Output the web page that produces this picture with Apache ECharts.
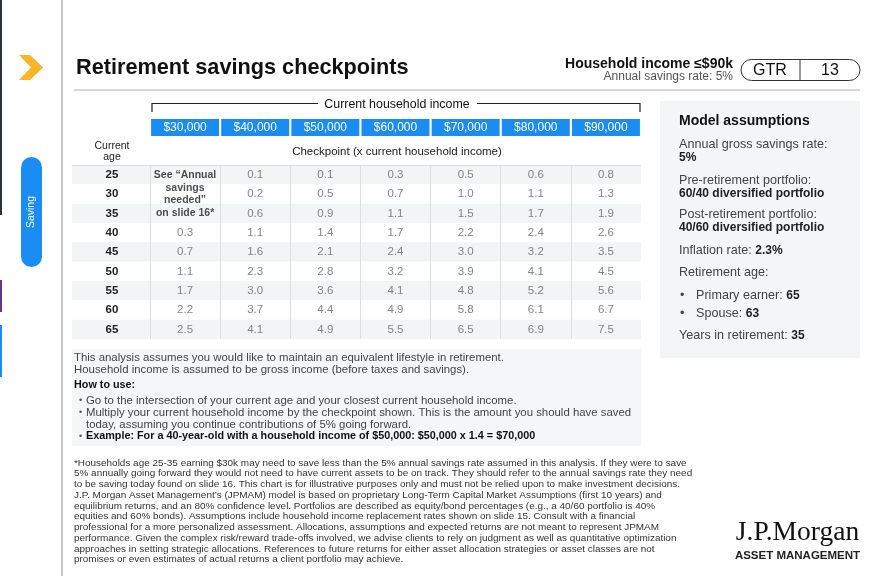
<!DOCTYPE html>
<html><head><meta charset="utf-8">
<script src="https://cdn.jsdelivr.net/npm/echarts@6/dist/echarts.min.js"></script>
<style>html,body{margin:0;padding:0;background:#fff}#c{width:876px;height:576px}</style>
</head><body><div id="c"></div>
<script>
// ---- data ----
const incomes = ['$30,000','$40,000','$50,000','$60,000','$70,000','$80,000','$90,000'];
const ages = ['25','30','35','40','45','50','55','60','65'];
const age25 = [null,0.1,0.1,0.3,0.5,0.6,0.8];
const age30 = [null,0.2,0.5,0.7,1.0,1.1,1.3];
const age35 = [null,0.6,0.9,1.1,1.5,1.7,1.9];
const age40 = [0.3,1.1,1.4,1.7,2.2,2.4,2.6];
const age45 = [0.7,1.6,2.1,2.4,3.0,3.2,3.5];
const age50 = [1.1,2.3,2.8,3.2,3.9,4.1,4.5];
const age55 = [1.7,3.0,3.6,4.1,4.8,5.2,5.6];
const age60 = [2.2,3.7,4.4,4.9,5.8,6.1,6.7];
const age65 = [2.5,4.1,4.9,5.5,6.5,6.9,7.5];
const rowsByAge = [age25,age30,age35,age40,age45,age50,age55,age60,age65];
const noteCell = ['$30,000','30'];
const noteText = 'See \u201cAnnual\nsavings\nneeded\u201d\non slide 16*';

const FONT = '"Liberation Sans", Arial, sans-serif';
const BLUE = '#1a8cf2';

const cells = [];
rowsByAge.forEach((row, r) => row.forEach((v, c) => { if (v !== null) cells.push([incomes[c], ages[r], v]); }));

function T(x, y, text, opt) {
  opt = opt || {};
  return { type:'text', x:x, y:y, silent:true, style: Object.assign({
    text:text, fill:'#333', font: (opt.weight||'normal') + ' ' + (opt.size||10) + 'px ' + FONT,
    textAlign: opt.align||'left', textVerticalAlign:'middle'}, opt.style||{}) };
}

const footnote = [
 '*Households age 25-35 earning $30k may need to save less than the 5% annual savings rate assumed in this analysis. If they were to save',
 '5% annually going forward they would not need to have current assets to be on track. They should refer to the annual savings rate they need',
 'to be saving today found on slide 16. This chart is for illustrative purposes only and must not be relied upon to make investment decisions.',
 'J.P. Morgan Asset Management\u2019s (JPMAM) model is based on proprietary Long-Term Capital Market Assumptions (first 10 years) and',
 'equilibrium returns, and an 80% confidence level. Portfolios are described as equity/bond percentages (e.g., a 40/60 portfolio is 40%',
 'equities and 60% bonds). Assumptions include household income replacement rates shown on slide 15. Consult with a financial',
 'professional for a more personalized assessment. Allocations, assumptions and expected returns are not meant to represent JPMAM',
 'performance. Given the complex risk/reward trade-offs involved, we advise clients to rely on judgment as well as quantitative optimization',
 'approaches in setting strategic allocations. References to future returns for either asset allocation strategies or asset classes are not',
 'promises or even estimates of actual returns a client portfolio may achieve.'
];

const richBase = { a:{ font:'normal 12.6px ' + FONT, fill:'#444' }, b:{ font:'bold 12px ' + FONT, fill:'#222' } };
function R(x, y, text) {
  return { type:'text', x:x, y:y, silent:true, style:{ text:text, rich:richBase, textVerticalAlign:'middle', font:'normal 12.6px '+FONT } };
}

const graphics = [
  // left strip and separators
  { type:'rect', shape:{x:0,y:0,width:2,height:215}, style:{fill:'#2b303b'}, silent:true },
  { type:'rect', shape:{x:0,y:280,width:2,height:32}, style:{fill:'#5b3a8c'}, silent:true },
  { type:'rect', shape:{x:0,y:325,width:2,height:52}, style:{fill:'#1a8cf2'}, silent:true },
  { type:'line', shape:{x1:62,y1:0,x2:62,y2:576}, style:{stroke:'#c9c9c9', lineWidth:2}, silent:true },
  { type:'polygon', shape:{points:[[19,55],[30,55],[43,67.5],[30,80],[19,80],[31,67.5]]}, style:{fill:'#f8b52a'}, silent:true },
  { type:'rect', shape:{x:21,y:157,width:21,height:110,r:10.5}, style:{fill:BLUE}, silent:true },
  { type:'text', x:31.5, y:212, rotation:Math.PI/2, silent:true, style:{text:'Saving', fill:'#fff', font:'normal 10.5px '+FONT, textAlign:'center', textVerticalAlign:'middle'} },
  // title
  T(76, 68, 'Retirement savings checkpoints', {size:21.7, weight:'bold', style:{fill:'#111'}}),
  { type:'line', shape:{x1:74,y1:90,x2:860,y2:90}, style:{stroke:'#c8c8c8', lineWidth:1.5}, silent:true },
  T(733, 64, 'Household income \u2264$90k', {size:14, weight:'bold', align:'right', style:{fill:'#111'}}),
  T(733, 76.5, 'Annual savings rate: 5%', {size:12, align:'right', style:{fill:'#555'}}),
  { type:'rect', shape:{x:741,y:59.5,width:119,height:21,r:10.5}, style:{fill:'none', stroke:'#333', lineWidth:1}, silent:true },
  { type:'line', shape:{x1:800,y1:59.5,x2:800,y2:80.5}, style:{stroke:'#333', lineWidth:1}, silent:true },
  T(770, 70.5, 'GTR', {size:16, align:'center', style:{fill:'#111'}}),
  T(830, 70.5, '13', {size:16, align:'center', style:{fill:'#111'}}),
  // table headers
  { type:'polyline', shape:{points:[[152,112],[152,103.5],[318,103.5]]}, style:{stroke:'#222', lineWidth:1.2, fill:null}, silent:true },
  { type:'polyline', shape:{points:[[477,103.5],[640,103.5],[640,112]]}, style:{stroke:'#222', lineWidth:1.2, fill:null}, silent:true },
  T(397, 105, 'Current household income', {size:12.4, align:'center', style:{fill:'#111'}}),
  T(112, 146, 'Current', {size:10.5, align:'center', style:{fill:'#222'}}),
  T(112, 157, 'age', {size:10.5, align:'center', style:{fill:'#222'}}),
  T(397, 152, 'Checkpoint (x current household income)', {size:11.5, align:'center', style:{fill:'#222'}}),
  // how-to box
  { type:'rect', shape:{x:72,y:349,width:569,height:97}, style:{fill:'#f5f6f8'}, silent:true, z:-1 },
  T(74, 358, 'This analysis assumes you would like to maintain an equivalent lifestyle in retirement.', {size:11.4, style:{fill:'#444'}}),
  T(74, 370, 'Household income is assumed to be gross income (before taxes and savings).', {size:11.4, style:{fill:'#444'}}),
  T(74, 385, 'How to use:', {size:10.8, weight:'bold', style:{fill:'#111'}}),
  T(79, 401, '\u2022', {size:9, style:{fill:'#555'}}),
  T(86, 401, 'Go to the intersection of your current age and your closest current household income.', {size:11.4, style:{fill:'#444'}}),
  T(79, 413, '\u2022', {size:9, style:{fill:'#555'}}),
  T(86, 413, 'Multiply your current household income by the checkpoint shown. This is the amount you should have saved', {size:11.4, style:{fill:'#444'}}),
  T(86, 424.5, 'today, assuming you continue contributions of 5% going forward.', {size:11.4, style:{fill:'#444'}}),
  T(79, 436.5, '\u2022', {size:9, style:{fill:'#555'}}),
  T(86, 436.5, 'Example: For a 40-year-old with a household income of $50,000: $50,000 x 1.4 = $70,000', {size:10.8, weight:'bold', style:{fill:'#111'}}),
  // model assumptions
  { type:'rect', shape:{x:660,y:101,width:200,height:257}, style:{fill:'#f4f5f7'}, silent:true, z:-1 },
  T(679, 121, 'Model assumptions', {size:14, weight:'bold', style:{fill:'#111'}}),
  R(679, 145, '{a|Annual gross savings rate:}'),
  R(679, 157.5, '{b|5%}'),
  R(679, 181, '{a|Pre-retirement portfolio:}'),
  R(679, 193.5, '{b|60/40 diversified portfolio}'),
  R(679, 215, '{a|Post-retirement portfolio:}'),
  R(679, 228, '{b|40/60 diversified portfolio}'),
  R(679, 251, '{a|Inflation rate: }{b|2.3%}'),
  R(679, 273, '{a|Retirement age:}'),
  R(680, 296, '{a|\u2022}'),
  R(696, 296, '{a|Primary earner: }{b|65}'),
  R(680, 314, '{a|\u2022}'),
  R(696, 314, '{a|Spouse: }{b|63}'),
  R(679, 336, '{a|Years in retirement: }{b|35}'),
  // logo
  { type:'text', x:797.5, y:533, silent:true, style:{text:'J.P.Morgan', fill:'#111', font:'normal 27.5px "Liberation Serif", "DejaVu Serif", serif', textAlign:'center', textVerticalAlign:'middle'} },
  T(797.5, 556, 'ASSET MANAGEMENT', {size:11.5, weight:'bold', align:'center', style:{fill:'#222'}})
];
footnote.forEach((line, i) => graphics.push(T(74, 463 + i * 10.75, line, {size:9.95, style:{fill:'#333'}})));

const SEP = '#dedede';
const bandColors = ['#f3f4f5','#ffffff'];

const chart = echarts.init(document.getElementById('c'), null, {renderer:'canvas'});
chart.setOption({
  animation:false,
  backgroundColor:'#ffffff',
  grid:[
    {left:150, top:165, width:491, height:174},
    {left:72, top:165, width:78, height:174}
  ],
  xAxis:[
    { type:'category', gridIndex:0, data:incomes, position:'top',
      axisLine:{show:true, lineStyle:{color:SEP, width:1}}, axisTick:{show:false},
      axisLabel:{interval:0, margin:29, color:'#fff', fontSize:12, fontFamily:FONT,
        backgroundColor:BLUE, width:68, height:17, lineHeight:17, align:'center', padding:0},
      splitLine:{show:true, interval:0, lineStyle:{color:[SEP,SEP,SEP,SEP,SEP,SEP,SEP,'rgba(0,0,0,0)'], width:1}} },
    { type:'category', gridIndex:1, data:['age'], position:'top',
      axisLine:{show:true, lineStyle:{color:SEP, width:1}}, axisTick:{show:false}, axisLabel:{show:false}, splitLine:{show:false} }
  ],
  yAxis:[
    { type:'category', gridIndex:0, data:ages, inverse:true,
      axisLine:{show:false}, axisTick:{show:false}, axisLabel:{show:false},
      splitArea:{show:true, interval:0, areaStyle:{color:bandColors}} },
    { type:'category', gridIndex:1, data:ages, inverse:true,
      axisLine:{show:false}, axisTick:{show:false},
      axisLabel:{interval:0, inside:true, margin:40, align:'center', color:'#222', fontWeight:'bold', fontSize:11.5, fontFamily:FONT},
      splitArea:{show:true, interval:0, areaStyle:{color:bandColors}} }
  ],
  series:[
    { type:'scatter', xAxisIndex:0, yAxisIndex:0, data:cells, symbolSize:1, silent:true,
      itemStyle:{color:'rgba(0,0,0,0)'},
      label:{show:true, position:'inside', formatter:p => p.value[2].toFixed(1), color:'#666', fontSize:11.5, fontFamily:FONT} },
    { type:'scatter', xAxisIndex:0, yAxisIndex:0, data:[noteCell], symbolSize:1, silent:true,
      itemStyle:{color:'rgba(0,0,0,0)'},
      label:{show:true, position:'inside', formatter:() => noteText, color:'#222', fontSize:10.5, fontWeight:'bold', lineHeight:12.7, align:'center', fontFamily:FONT} },
    { type:'scatter', xAxisIndex:1, yAxisIndex:1, data:[], silent:true }
  ],
  graphic: graphics
});
</script></body></html>
